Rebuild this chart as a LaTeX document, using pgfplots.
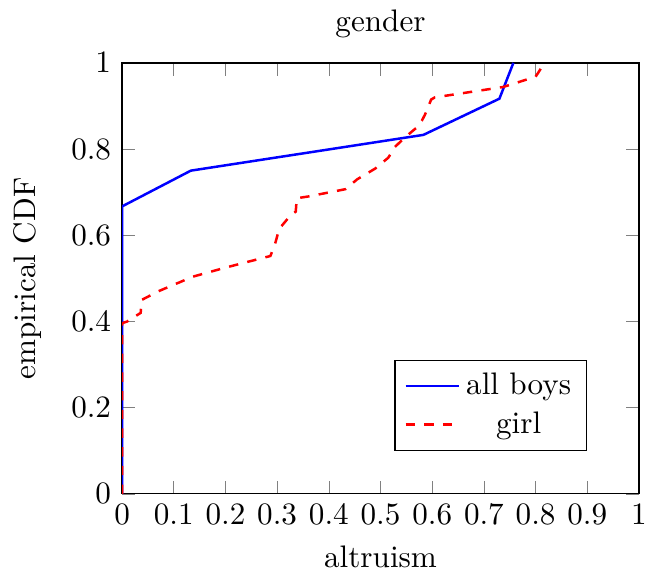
\documentclass[border=0pt]{standalone}
\usepackage{pgfplots}
\pgfplotsset{compat=1.18}
\begin{document}
\begin{tikzpicture}
\begin{axis}[
  scale only axis,
  width=166pt, height=138.4pt,
  xmin=0, xmax=1, ymin=0, ymax=1,
  xtick={0,0.1,...,1}, ytick={0,0.2,...,1},
  title={gender},
  every axis title shift=0pt,
  title style={at={(axis description cs:0.5,1)}, anchor=base, yshift=10pt},
  xlabel={altruism}, ylabel={empirical CDF},
  xlabel style={at={(axis description cs:0.5,0)}, anchor=base, yshift=-23.7pt},
  ylabel style={at={(axis description cs:-0.168,0.5)}, anchor=base},
  legend style={at={(0.9,0.1)}, anchor=south east},
  legend cell align=center,
]
\addplot[blue, thick] coordinates {
(0,0) (0,0.667) (0.133,0.75) (0.583,0.833) (0.73,0.917) (0.757,1)
};
\addlegendentry{all boys}
\addplot[red, thick, dashed] coordinates {
(0,0) (0,0.396) (0.01,0.40) (0.036,0.42) (0.038,0.45) (0.07,0.47) (0.137,0.504) (0.2,0.525) (0.287,0.552) (0.296,0.58) (0.304,0.615) (0.325,0.645) (0.336,0.655) (0.338,0.686) (0.36,0.69) (0.432,0.707) (0.455,0.73) (0.49,0.755) (0.515,0.78) (0.528,0.805) (0.545,0.825) (0.57,0.85) (0.58,0.866) (0.586,0.88) (0.598,0.915) (0.605,0.92) (0.737,0.944) (0.8,0.968) (0.812,0.99) (0.815,1)
};
\addlegendentry{girl}
\end{axis}
\pgfresetboundingbox
\path ([xshift=-39.2pt,yshift=-26.3pt]current axis.south west) rectangle ([xshift=2.9pt,yshift=20.2pt]current axis.north east);
\end{tikzpicture}
\end{document}
